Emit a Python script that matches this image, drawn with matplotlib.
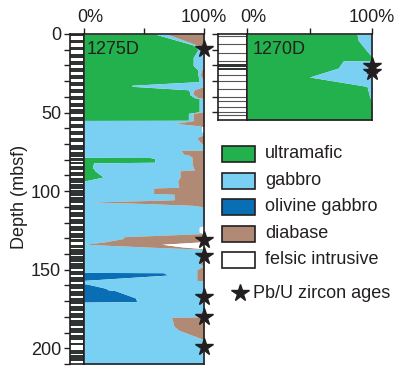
import matplotlib.pyplot as plt
from matplotlib.patches import Rectangle
from matplotlib.lines import Line2D
import matplotlib.transforms as mtransforms

plt.rcParams['font.family'] = ['Liberation Sans', 'DejaVu Sans']
plt.rcParams['font.size'] = 13

# hole 1275D: lithology (% of recovered rock) vs depth (mbsf)
depth_1275 = [0, 7, 9, 10, 15, 20, 23, 26, 30.3, 32.6, 33.3, 35.5, 37, 38.5, 40.5, 41, 49.5, 50.5,
              54.9, 55.0, 56.9, 58.5, 59, 62, 63, 64, 66, 69, 71, 73.9, 74, 76.5, 77, 78.5, 78.6,
              79.3, 81.6, 82.0, 85, 86.5, 87, 91, 93.6, 97.5, 98, 101.5, 102, 105.5, 107, 107.6,
              109, 110, 122, 123, 126, 127, 129, 130.1, 132.2, 133.8, 135.5, 136.6, 137, 143,
              145, 148, 150, 151.7, 151.9, 153.4, 156.6, 156.8, 157, 158.8, 159.2, 161.8, 162.8,
              163.3, 168, 170.3, 170.6, 176, 178, 180, 180.3, 186, 188.5, 194.5, 210]
ultramafic_1275 = [59, 91, 94, 95, 91, 91, 95, 95, 96, 40, 40, 87, 88, 88, 92, 96, 96, 87,
                   87, 0, 0, 0, 0, 0, 0, 0, 0, 0, 0, 0, 0, 0, 0, 0, 55,
                   59, 59, 8, 7, 9, 9, 16, 0, 0, 0, 0, 0, 0, 0, 0,
                   0, 0, 0, 0, 0, 0, 0, 0, 0, 0, 0, 0, 0, 0,
                   0, 0, 0, 0, 0, 0, 0, 0, 0, 0, 0, 0, 0,
                   0, 0, 0, 0, 0, 0, 0, 0, 0, 0, 0, 0, 0]
olivine_1275 = [0, 0, 0, 0, 0, 0, 0, 0, 0, 0, 0, 0, 0, 0, 0, 0, 0, 0,
                0, 0, 0, 0, 0, 0, 0, 0, 0, 0, 0, 0, 0, 0, 0, 0, 0,
                0, 0, 0, 0, 0, 0, 0, 0, 0, 0, 0, 0, 0, 0, 0,
                0, 0, 0, 0, 0, 0, 0, 0, 0, 0, 0, 0, 0, 0,
                0, 0, 0, 0, 66, 70, 4, 0, 0, 0, 3, 18, 20,
                26, 43, 44, 0, 0, 0, 0, 0, 0, 0, 0, 0]
gabbro_1275 = [10, 3, 5, 5, 9, 9, 3, 2, 4, 60, 60, 5, 3, 3, 3, 4, 4, 4,
               4, 92, 76, 97, 98, 98, 100, 100, 94, 97, 100, 100, 81, 83, 87, 90, 35,
               31, 31, 82, 84, 83, 71, 64, 78, 79, 58, 58, 75, 75, 4, 40,
               90, 100, 100, 96, 96, 100, 33, 33, 18, 1, 50, 87, 100, 100,
               96, 99, 94, 94, 28, 24, 90, 94, 100, 100, 97, 82, 80,
               74, 57, 56, 100, 100, 98, 97, 73, 75, 79, 100, 100]
diabase_1275 = [31, 6, 1, 0, 0, 0, 2, 3, 0, 0, 0, 8, 9, 9, 5, 0, 0, 9,
                9, 8, 24, 3, 0, 0, 0, 0, 6, 3, 0, 0, 19, 17, 13, 10, 10,
                10, 10, 10, 9, 8, 20, 20, 22, 21, 42, 42, 25, 25, 96, 60,
                10, 0, 0, 0, 0, 0, 67, 67, 82, 64, 32, 13, 0, 0,
                4, 1, 6, 6, 6, 6, 6, 6, 0, 0, 0, 0, 0,
                0, 0, 0, 0, 0, 2, 3, 27, 25, 21, 0, 0]
felsic_1275 = [0, 0, 0, 0, 0, 0, 0, 0, 0, 0, 0, 0, 0, 0, 0, 0, 0, 0,
               0, 0, 0, 0, 2, 2, 0, 0, 0, 0, 0, 0, 0, 0, 0, 0, 0,
               0, 0, 0, 0, 0, 0, 0, 0, 0, 0, 0, 0, 0, 0, 0,
               0, 0, 0, 4, 4, 0, 0, 0, 0, 35, 18, 0, 0, 0,
               0, 0, 0, 0, 0, 0, 0, 0, 0, 0, 0, 0, 0,
               0, 0, 0, 0, 0, 0, 0, 0, 0, 0, 0, 0, 0]
zircon_1275 = [9.5, 131, 141, 167.5, 180, 199]

# hole 1270D
depth_1270 = [0, 4, 11, 14.6, 17.0, 17.2, 21.8, 27.5, 33.5, 39.7, 44, 55]
ultramafic_1270 = [88, 89, 96, 100, 100, 77, 73, 50, 96, 98, 100, 100]
gabbro_1270 = [12, 11, 4, 0, 0, 23, 27, 50, 4, 2, 0, 0]
zircon_1270 = [20.3, 24.3]

# core recovery: recovered intervals (top, base) in mbsf
recovered_1275 = [(0, 1.5), (4, 6), (8.5, 10.5), (12.5, 15), (17, 19.5), (21.5, 24), (26, 28.5),
                  (30.5, 33), (35, 37.5), (39.5, 42), (44, 46.5), (48, 51), (52.5, 55.5),
                  (57, 60), (61.5, 64.5), (66, 69), (70.5, 73.5), (75, 78), (79, 80.5),
                  (81.5, 83), (84, 86.5), (87.5, 90.5), (91.5, 94.5), (95.5, 98.5),
                  (99.5, 103), (104, 107.5), (108.5, 112), (113, 116.5), (117.5, 121),
                  (122, 125.5), (126.5, 129.5), (130.5, 132.5), (134, 136), (137, 140.5),
                  (141.5, 145), (146, 149.5), (150.5, 153.5), (154.5, 158), (159, 162.5),
                  (163.5, 167), (168, 172), (173, 176.5), (177.5, 181), (182, 186),
                  (187, 190.5), (191.5, 195), (196.5, 198), (201, 203.5), (204.5, 208)]
recovered_1270 = [(19, 21), (21.7, 23.3)]
sections_1270 = [1.5, 6.5, 12, 17.5, 26, 30, 35, 40, 43, 47, 50, 52]

c_um = '#22b14c'
c_gb = '#79d0f3'
c_ol = '#0a6eb4'
c_db = '#b08a75'
c_fl = 'white'
c_core = '#2f3434'
c_ink = '#231f20'

W, H = 396, 367
fig = plt.figure(figsize=(W / 100, H / 100), dpi=100)


def box(x0, y0, x1, y1):
    return [x0 / W, 1 - y1 / H, (x1 - x0) / W, (y1 - y0) / H]


ax_col = fig.add_axes(box(70, 34, 84, 364))
ax = fig.add_axes(box(84, 34, 204, 364))
ax_col2 = fig.add_axes(box(218, 34, 247, 120))
ax2 = fig.add_axes(box(247, 34, 372, 120))

# stacked lithology fills (left to right)
stack_1275 = [(ultramafic_1275, c_um), (olivine_1275, c_ol), (gabbro_1275, c_gb),
              (diabase_1275, c_db), (felsic_1275, c_fl)]
left = [0] * len(depth_1275)
for vals, col in stack_1275:
    right = [a + b for a, b in zip(left, vals)]
    ax.fill_betweenx(depth_1275, left, right, color=col, lw=0)
    left = right

left = [0] * len(depth_1270)
for vals, col in [(ultramafic_1270, c_um), (gabbro_1270, c_gb)]:
    right = [a + b for a, b in zip(left, vals)]
    ax2.fill_betweenx(depth_1270, left, right, color=col, lw=0)
    left = right

ax.plot([100] * len(zircon_1275), zircon_1275, '*', color=c_ink, ms=13, clip_on=False, zorder=5)
ax2.plot([100] * len(zircon_1270), zircon_1270, '*', color=c_ink, ms=13, clip_on=False, zorder=5)

# core recovery columns
for top, base in recovered_1275:
    ax_col.axhspan(top, base, color=c_core, lw=0)
for top, base in recovered_1270:
    ax_col2.axhspan(top, base, color=c_core, lw=0)
for d in sections_1270:
    ax_col2.axhline(d, color='#555555', lw=0.8)

for a, ymax in [(ax_col, 210), (ax, 210), (ax_col2, 55), (ax2, 55)]:
    a.set_ylim(ymax, 0)
    for s in a.spines.values():
        s.set_linewidth(1.2)
        s.set_color(c_ink)

for a in [ax, ax2]:
    a.set_xlim(0, 100)
    a.xaxis.tick_top()
    a.set_xticks([0, 50, 100])
    a.set_xticklabels(['0%', '', '100%'])
    a.tick_params(axis='x', direction='out', length=4, width=1, pad=2, colors=c_ink)
    a.set_yticks([])
    shift = mtransforms.ScaledTranslation(6 / 100, 0, fig.dpi_scale_trans)
    lab = a.get_xticklabels()[0]
    lab.set_transform(lab.get_transform() + shift)

ax_col.set_xticks([])
ax_col.set_yticks([0, 50, 100, 150, 200])
ax_col.set_yticks(range(0, 211, 10), minor=True)
ax_col.tick_params(axis='y', which='both', direction='out', length=4.5, width=1, pad=2, colors=c_ink)

ax_col2.set_xticks([])
ax_col2.set_yticks(range(0, 55, 10))
ax_col2.set_yticklabels([])
ax_col2.tick_params(axis='y', direction='out', length=4, width=1, colors=c_ink)

fig.text(19.5 / W, 1 - 197 / H, 'Depth (mbsf)', rotation=90, ha='center', va='center', color=c_ink)
fig.text(87 / W, 1 - 53.5 / H, '1275D', color=c_ink)
fig.text(253 / W, 1 - 54 / H, '1270D', color=c_ink)

# legend
leg_names = ['ultramafic', 'gabbro', 'olivine gabbro', 'diabase', 'felsic intrusive']
leg_colors = [c_um, c_gb, c_ol, c_db, c_fl]
for i, (name, col) in enumerate(zip(leg_names, leg_colors)):
    y0 = 146.5 + 26.4 * i
    fig.add_artist(Rectangle((222 / W, 1 - (y0 + 16) / H), 33 / W, 16 / H, transform=fig.transFigure,
                             facecolor=col, edgecolor=c_ink, lw=1.2))
    fig.text(265 / W, 1 - (y0 + 12) / H, name, va='baseline', color=c_ink)
fig.add_artist(Line2D([240 / W], [1 - 293 / H], marker='*', color=c_ink, ms=13,
                      transform=fig.transFigure))
fig.text(253 / W, 1 - 298 / H, 'Pb/U zircon ages', va='baseline', color=c_ink)

fig.savefig('out.png', dpi=100)
